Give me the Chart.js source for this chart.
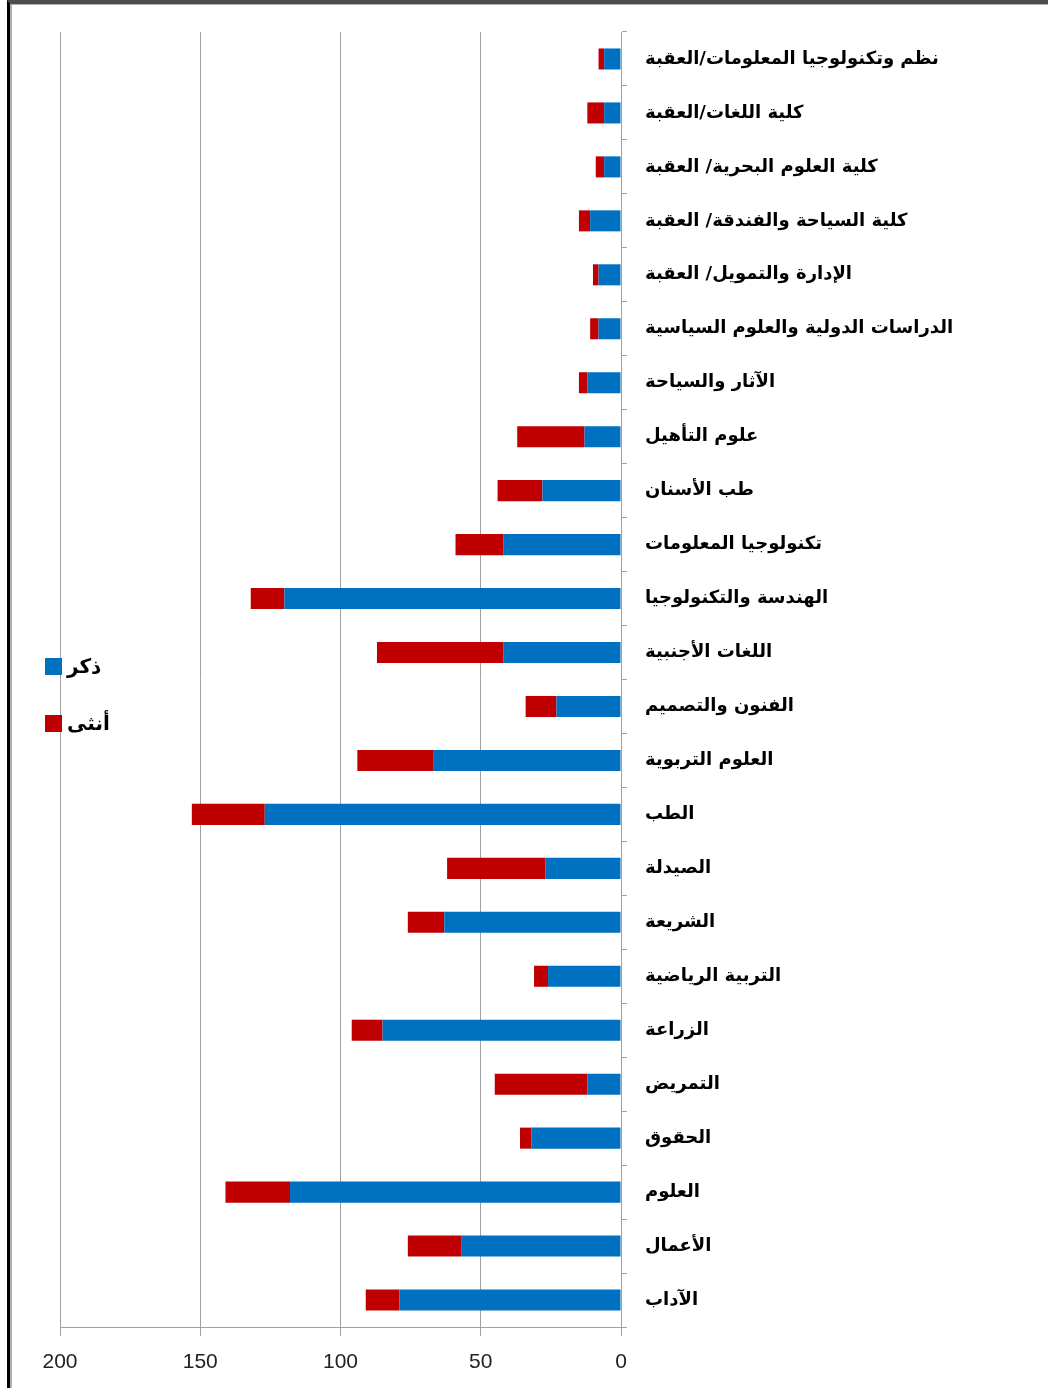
<!DOCTYPE html>
<html>
<head>
<meta charset="utf-8">
<script src="https://cdn.jsdelivr.net/npm/chart.js@4/dist/chart.umd.min.js"></script>
<style>
  body { margin: 0; background: #fff; }
  #wrap { position: relative; width: 1048px; height: 1388px; }
  #frame {
    position: absolute; left: 7px; top: 0; right: 0; bottom: 0;
    border-left: 3px solid #000; border-top: 4px solid #4d4d4d;
    box-shadow: inset 2px 1px 0 #b0b0b0;
    pointer-events: none;
  }
  #legend {
    position: absolute; left: 45px; top: 652px;
    font: bold 20px "DejaVu Sans", sans-serif; color: #000;
  }
  .item { display: flex; align-items: center; height: 28px; margin-bottom: 29px; }
  .box { width: 17px; height: 17px; margin-right: 5px; }
</style>
</head>
<body>
<div id="wrap">
  <canvas id="chart" width="1048" height="1388"></canvas>
  <div id="frame"></div>
  <div id="legend"></div>
</div>
<script>
// categories, top to bottom
const categories = [
  "نظم وتكنولوجيا المعلومات/العقبة",
  "كلية اللغات/العقبة",
  "كلية العلوم البحرية/ العقبة",
  "كلية السياحة والفندقة/ العقبة",
  "الإدارة والتمويل/ العقبة",
  "الدراسات الدولية والعلوم السياسية",
  "الآثار والسياحة",
  "علوم التأهيل",
  "طب الأسنان",
  "تكنولوجيا المعلومات",
  "الهندسة والتكنولوجيا",
  "اللغات الأجنبية",
  "الفنون والتصميم",
  "العلوم التربوية",
  "الطب",
  "الصيدلة",
  "الشريعة",
  "التربية الرياضية",
  "الزراعة",
  "التمريض",
  "الحقوق",
  "العلوم",
  "الأعمال",
  "الآداب"
];

const maleValues   = [6, 6, 6, 11, 8, 8, 12, 13, 28, 42, 120, 42, 23, 67, 127, 27, 63, 26, 85, 12, 32, 118, 57, 79];
const femaleValues = [2, 6, 3, 4, 2, 3, 3, 24, 16, 17, 12, 45, 11, 27, 26, 35, 13, 5, 11, 33, 4, 23, 19, 12];

const seriesNames = ["ذكر", "أنثى"];
const seriesColors = ["#0070C0", "#C00000"];

const xMin = 0, xMax = 200, xStep = 50;

const ctx = document.getElementById("chart").getContext("2d");

new Chart(ctx, {
  type: "bar",
  data: {
    labels: categories,
    datasets: [
      { label: seriesNames[0], data: maleValues, backgroundColor: seriesColors[0] },
      { label: seriesNames[1], data: femaleValues, backgroundColor: seriesColors[1] }
    ]
  },
  options: {
    indexAxis: "y",
    responsive: false,
    animation: false,
    devicePixelRatio: 1,
    categoryPercentage: 1,
    barPercentage: 0.39,
    layout: { padding: { left: 60, top: 32, right: 0, bottom: 0 } },
    plugins: {
      legend: { display: false },
      tooltip: { enabled: false }
    },
    scales: {
      x: {
        stacked: true,
        reverse: true,
        min: xMin,
        max: xMax,
        ticks: {
          stepSize: xStep,
          color: "#222",
          padding: 14,
          font: { family: "Liberation Sans", size: 21 }
        },
        grid: { color: "#a0a0a0", tickLength: 9, lineWidth: 1 },
        border: { color: "#a0a0a0" },
        afterFit: scale => { scale.height = 61; }
      },
      y: {
        stacked: true,
        position: "right",
        ticks: {
          color: "#000",
          padding: 18,
          font: { family: "DejaVu Sans", size: 18, weight: "bold" }
        },
        grid: { drawOnChartArea: false, color: "#a0a0a0", tickLength: 6 },
        border: { color: "#a0a0a0" },
        afterFit: scale => { scale.width = 427; }
      }
    }
  }
});

// legend (box left of text, as in the source)
const legendEl = document.getElementById("legend");
seriesNames.forEach((name, i) => {
  const item = document.createElement("div");
  item.className = "item";
  const box = document.createElement("span");
  box.className = "box";
  box.style.background = seriesColors[i];
  const txt = document.createElement("span");
  txt.textContent = name;
  item.appendChild(box);
  item.appendChild(txt);
  legendEl.appendChild(item);
});
</script>
</body>
</html>
